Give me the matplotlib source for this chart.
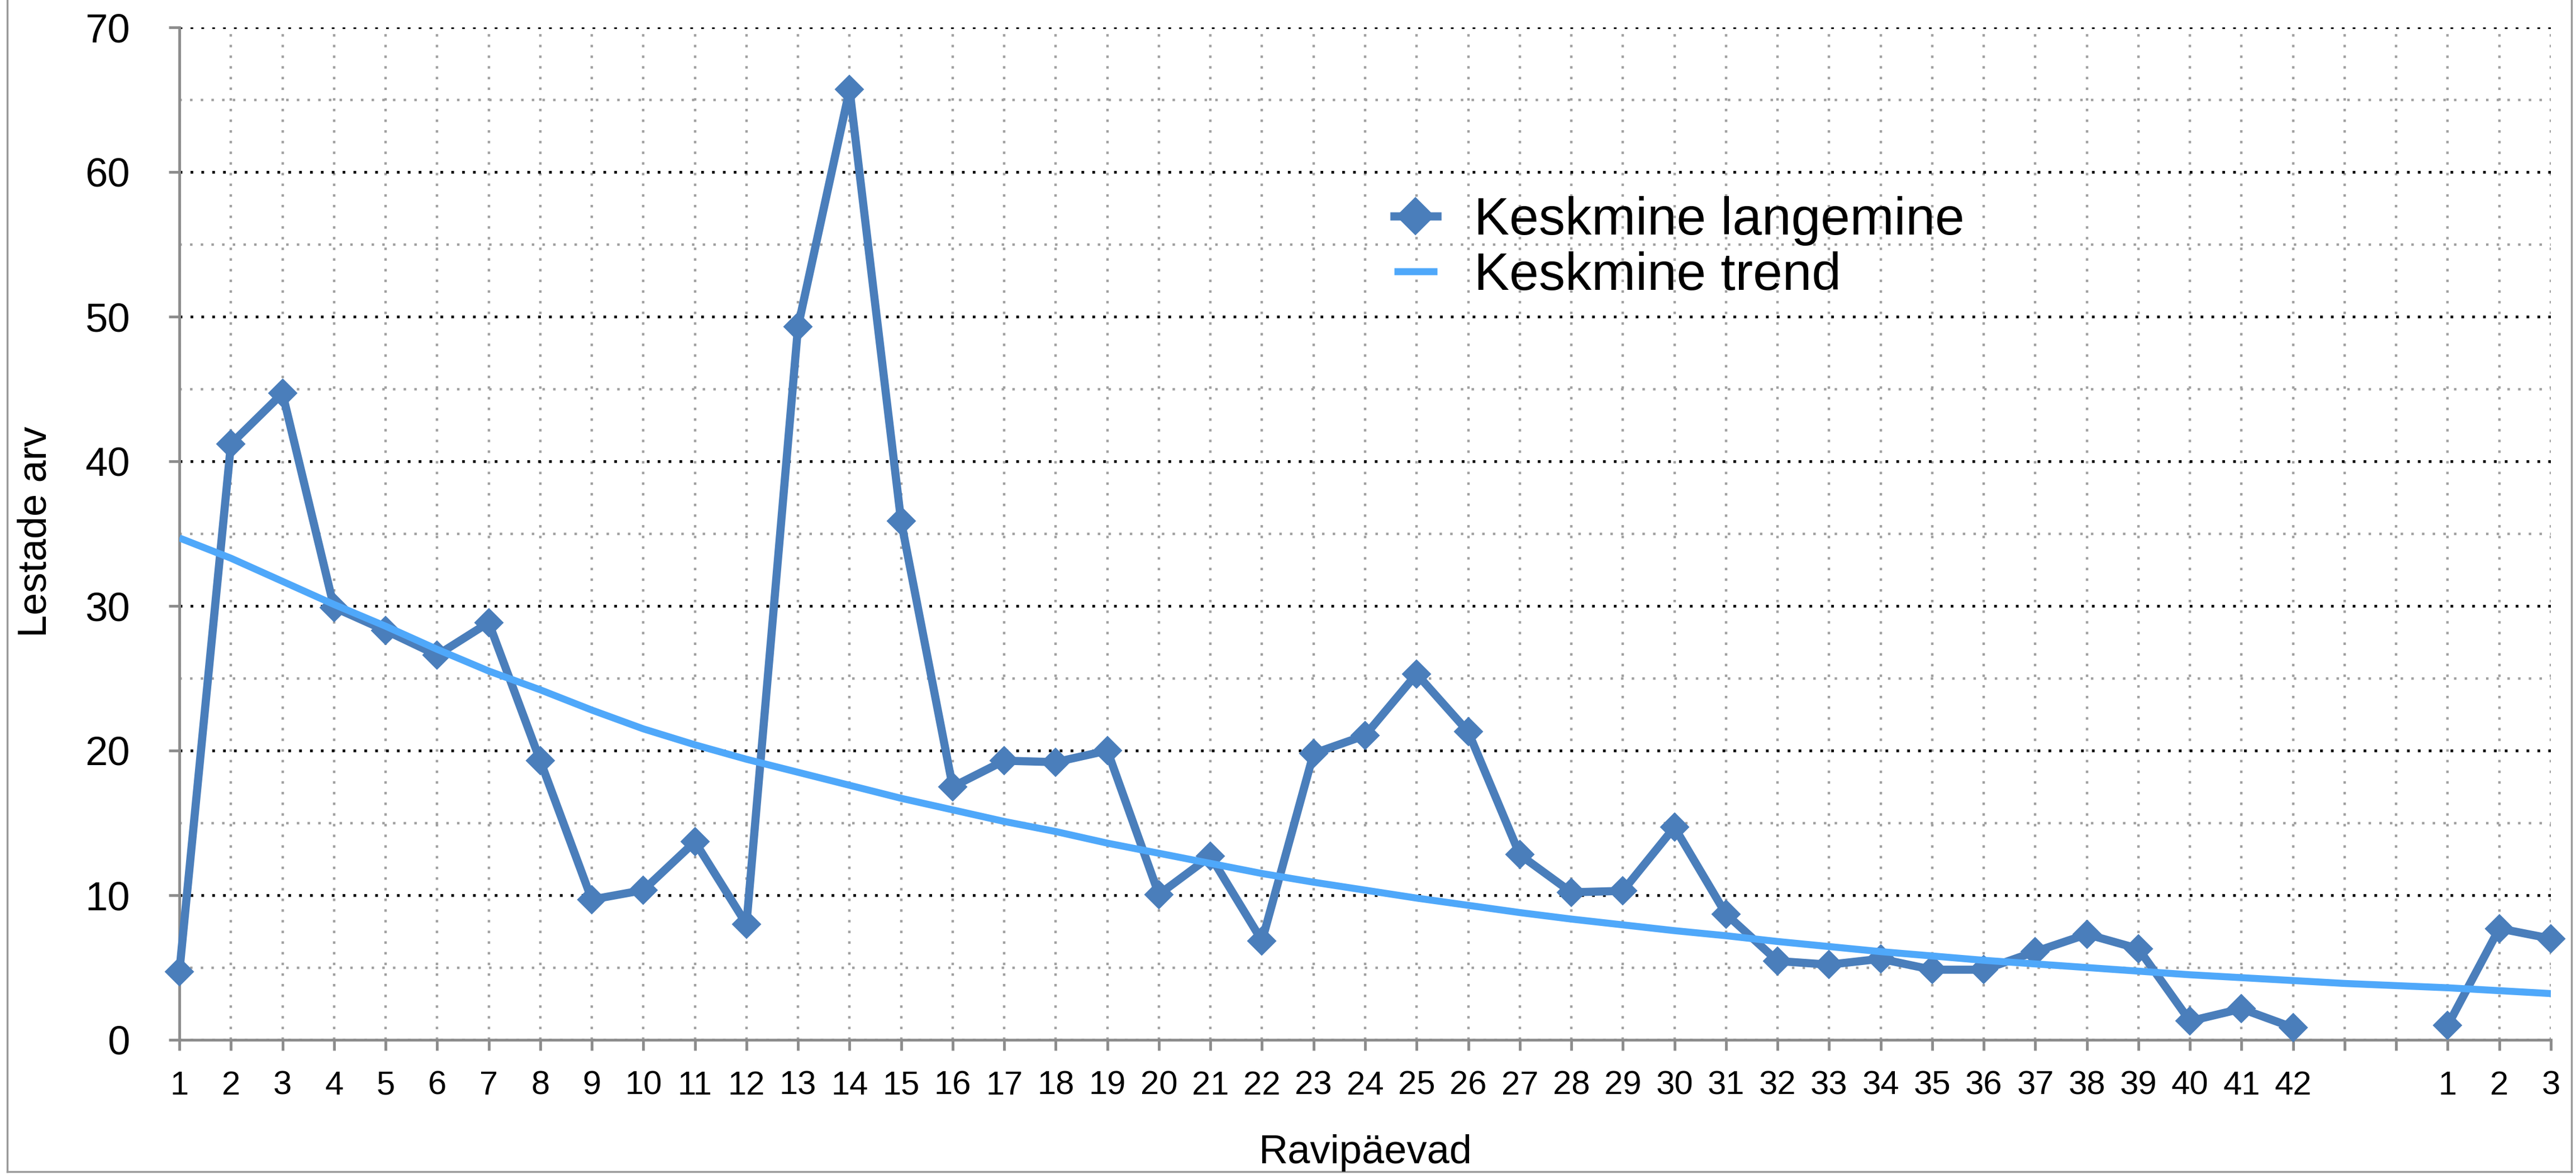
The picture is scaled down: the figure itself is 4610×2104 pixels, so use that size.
import numpy as np
import matplotlib
matplotlib.use("Agg")
import matplotlib.pyplot as plt
from matplotlib.lines import Line2D
from matplotlib.ticker import MultipleLocator

plt.rcParams["font.family"] = ["Liberation Sans", "DejaVu Sans"]

# category labels along the x axis (two empty slots between 42 and the next 1)
day_labels = [str(d) for d in range(1, 43)] + ["", "", "1", "2", "3"]

# mean drop per treatment day (gap = no data)
keskmine_langemine = [4.7, 41.2, 44.7, 29.9, 28.3, 26.6, 28.85, 19.3, 9.7, 10.35,
                      13.7, 8.0, 49.3, 65.7, 35.85, 17.5, 19.3, 19.2, 20.0, 10.05,
                      12.7, 6.85, 19.8, 21.05, 25.3, 21.3, 12.8, 10.2, 10.3, 14.7,
                      8.7, 5.45, 5.2, 5.6, 4.85, 4.85, 6.1, 7.3, 6.3, 1.3,
                      2.15, 0.85, np.nan, np.nan, 1.0, 7.7, 7.0]

# trend curve
keskmine_trend = [34.7, 33.3, 31.7, 30.1, 28.6, 27.0, 25.5, 24.2, 22.8, 21.5,
                  20.4, 19.4, 18.5, 17.6, 16.7, 15.9, 15.1, 14.4, 13.6, 12.9,
                  12.2, 11.5, 10.9, 10.35, 9.8, 9.3, 8.8, 8.35, 7.95, 7.55,
                  7.2, 6.8, 6.45, 6.1, 5.8, 5.5, 5.25, 5.0, 4.75, 4.5,
                  4.3, 4.1, 3.9, 3.75, 3.6, 3.4, 3.2]

x = np.arange(1, len(day_labels) + 1)

W, H = 4610, 2104
fig = plt.figure(figsize=(W / 100, H / 100), dpi=100)
ax = fig.add_axes([321 / W, 1 - 1862 / H, (4565 - 321) / W, (1862 - 49) / H])

data_color = "#4A7EBB"
trend_color = "#4FA8FA"
axis_gray = "#8C8C8C"

ax.plot(x, keskmine_langemine, color=data_color, lw=10.5, marker="D", ms=25,
        mec=data_color, mew=1.5, label="Keskmine langemine", zorder=3, clip_on=False)
ax.plot(x, keskmine_trend, color=trend_color, lw=9, label="Keskmine trend",
        zorder=4, solid_capstyle="butt")

ax.set_xlim(1, 47)
ax.set_ylim(0, 70)
ax.set_xticks(x)
ax.set_xticklabels(day_labels)
ax.yaxis.set_major_locator(MultipleLocator(10))
ax.yaxis.set_minor_locator(MultipleLocator(5))

for s in ["top", "right"]:
    ax.spines[s].set_visible(False)
for s in ["left", "bottom"]:
    ax.spines[s].set_color(axis_gray)
    ax.spines[s].set_linewidth(3.5)

ax.tick_params(axis="both", which="major", direction="out", length=13.5,
               width=3.5, color=axis_gray)
ax.tick_params(axis="x", labelsize=43, pad=26)
ax.tick_params(axis="y", labelsize=52, pad=50)
ax.tick_params(which="minor", length=0)

ax.grid(axis="y", which="major", color="black", lw=3.5, linestyle=(0, (1, 3)))
ax.grid(axis="y", which="minor", color="#A0A0A0", lw=3.2, linestyle=(0, (1, 3.3)))
ax.grid(axis="x", which="major", color="#A0A0A0", lw=3.2, linestyle=(0, (1, 3.3)))
ax.set_axisbelow(True)

ax.legend(loc="center left", bbox_to_anchor=((2495 - 321) / 4244, 0.7816),
          frameon=False, fontsize=68, numpoints=1, markerscale=1.35,
          handlelength=0.81, handletextpad=0.7, labelspacing=0.1,
          borderpad=0, borderaxespad=0)

fig.text(83 / W, 1 - 952 / H, "Lestade arv", rotation=90, rotation_mode="anchor",
         ha="center", va="baseline", fontsize=52)
fig.text(2443 / W, 1 - 2083 / H, "Ravipäevad", ha="center", va="baseline",
         fontsize=52)

# outer chart border (left, bottom, right)
bx0, bx1, by0 = 13 / W, 4602 / W, 1 - 2098 / H
for xs, ys in [([bx0, bx0], [by0, 1]), ([bx0, bx1], [by0, by0]), ([bx1, bx1], [by0, 1])]:
    fig.add_artist(Line2D(xs, ys, color="#9A9A9A", lw=2.5))

fig.savefig("out.png", dpi=100, facecolor="white")
